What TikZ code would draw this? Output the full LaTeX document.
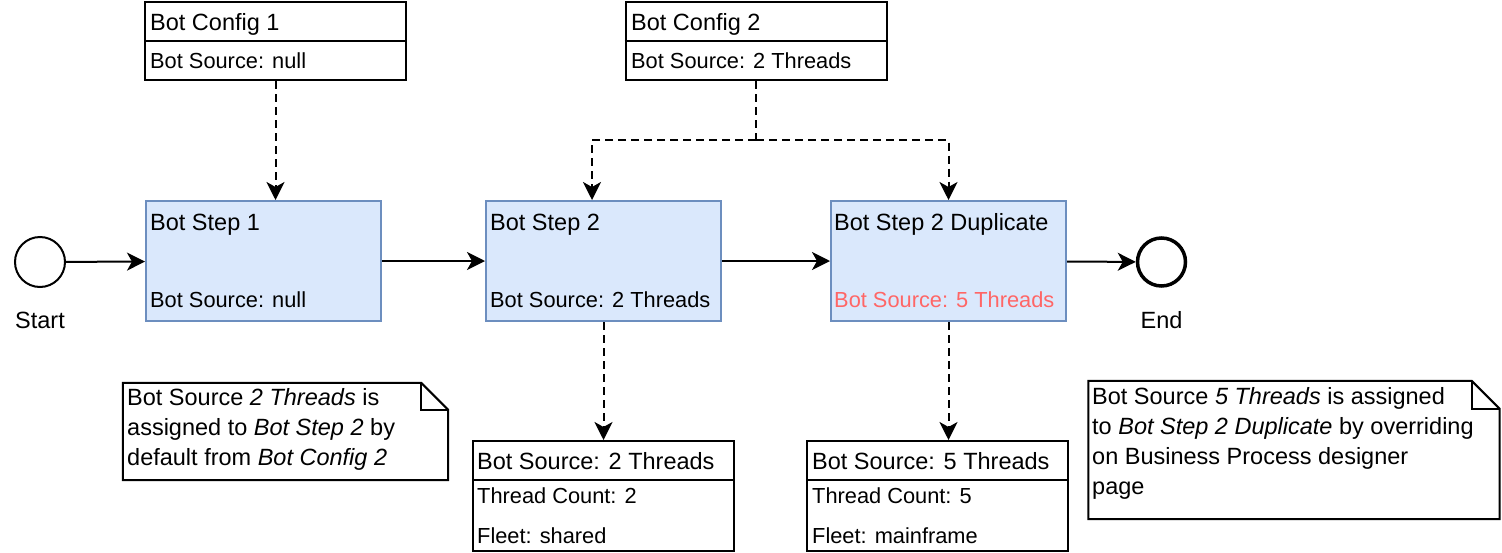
\documentclass[tikz,border=0pt]{standalone}
\usepackage{fontspec}
\setmainfont{Liberation Sans}
\usetikzlibrary{arrows.meta,calc}
\definecolor{stepfill}{HTML}{DAE8FC}
\definecolor{stepdraw}{HTML}{6C8EBF}
\definecolor{redtxt}{HTML}{FF6666}
\begin{document}
\begin{tikzpicture}[x=1pt,y=-1pt,
  cfgbox/.style={draw, line width=2pt, inner sep=0pt, minimum width=261pt, minimum height=78pt},
  srcbox/.style={draw, line width=2pt, inner sep=0pt, minimum width=261pt, minimum height=110pt},
  stepbox/.style={draw=stepdraw, fill=stepfill, line width=2pt, inner sep=0pt, minimum width=235pt, minimum height=120pt},
  evt/.style={circle, draw, line width=2pt, inner sep=0pt, minimum size=50pt},
  txt/.style={anchor=base west, inner sep=0pt, font=\fontsize{21.8}{26}\selectfont},
  ttl/.style={anchor=base west, inner sep=0pt, font=\fontsize{23.5}{28}\selectfont},
  notetxt/.style={anchor=base west, inner sep=0pt, font=\fontsize{23.5}{30}\selectfont},
  flow/.style={line width=2pt, -{Stealth[length=18pt,width=18pt,inset=5pt]}},
  dsh/.style={flow, dash pattern=on 8pt off 5pt},
  dshline/.style={line width=2pt, dash pattern=on 8pt off 5pt},
  notebox/.style={line width=2pt, line join=miter}
]
\useasboundingbox (0,0) rectangle (1502,552);

% config boxes
\node[cfgbox] (c1) at (275.5,41) {};
\draw[line width=1.8pt] (c1.west) -- (c1.east);
\node[ttl] (c1t) at (150,30) {Bot Config 1};
\node[txt] (c1s) at (150,68) {Bot Source: null};

\node[cfgbox] (c2) at (756,41) {};
\draw[line width=1.8pt] (c2.west) -- (c2.east);
\node[ttl] (c2t) at (631,30) {Bot Config 2};
\node[txt] (c2s) at (631,68) {Bot Source: 2 Threads};

% events
\node[evt] (st) at (40,262) {};
\node[ttl, anchor=base] (stl) at (40,328) {Start};
\node[evt, line width=3.5pt, minimum size=48pt] (en) at (1161.5,262) {};
\node[ttl, anchor=base] (enl) at (1161.5,328) {End};

% steps
\node[stepbox] (s1) at (263.5,261) {};
\node[ttl] (s1t) at (150,230) {Bot Step 1};
\node[txt] (s1s) at (150,307) {Bot Source: null};

\node[stepbox] (s2) at (603.5,261) {};
\node[ttl] (s2t) at (490,230) {Bot Step 2};
\node[txt] (s2s) at (490,307) {Bot Source: 2 Threads};

\node[stepbox] (s3) at (948.5,261) {};
\node[ttl] (s3t) at (834,230) {Bot Step 2 Duplicate};
\node[txt, text=redtxt] (s3s) at (834,307) {Bot Source: 5 Threads};

% source boxes
\node[srcbox] (b1) at (603.5,496) {};
\draw[line width=1.8pt] ($(b1.north west)+(0,40)$) -- ($(b1.north east)+(0,40)$);
\node[ttl] (b1t) at (477,469) {Bot Source: 2 Threads};
\node[txt] (b1a) at (477,503) {Thread Count: 2};
\node[txt] (b1b) at (477,543) {Fleet: shared};

\node[srcbox] (b2) at (937.5,496) {};
\draw[line width=1.8pt] ($(b2.north west)+(0,40)$) -- ($(b2.north east)+(0,40)$);
\node[ttl] (b2t) at (812,469) {Bot Source: 5 Threads};
\node[txt] (b2a) at (812,503) {Thread Count: 5};
\node[txt] (b2b) at (812,543) {Fleet: mainframe};

% notes
\node[inner sep=0pt, minimum width=325pt, minimum height=97pt] (n1) at (285.5,431.5) {};
\draw[notebox] (n1.north west) -- ($(n1.north east)+(-27,0)$) -- ($(n1.north east)+(0,27)$) -- (n1.south east) -- (n1.south west) -- cycle;
\draw[notebox] ($(n1.north east)+(-27,0)$) -- ($(n1.north east)+(-27,27)$) -- ($(n1.north east)+(0,27)$);
\node[notetxt] (n1a) at (127,405) {Bot Source \textit{2 Threads} is};
\node[notetxt] (n1b) at (127,435) {assigned to \textit{Bot Step 2} by};
\node[notetxt] (n1c) at (127,465) {default from \textit{Bot Config 2}};

\node[inner sep=0pt, minimum width=411pt, minimum height=138pt] (n2) at (1294,450) {};
\draw[notebox] (n2.north west) -- ($(n2.north east)+(-28,0)$) -- ($(n2.north east)+(0,28)$) -- (n2.south east) -- (n2.south west) -- cycle;
\draw[notebox] ($(n2.north east)+(-28,0)$) -- ($(n2.north east)+(-28,28)$) -- ($(n2.north east)+(0,28)$);
\node[notetxt] (n2a) at (1092,404) {Bot Source \textit{5 Threads} is assigned};
\node[notetxt] (n2b) at (1092,434) {to \textit{Bot Step 2 Duplicate} by overriding};
\node[notetxt] (n2c) at (1092,464) {on Business Process designer};
\node[notetxt] (n2d) at (1092,494) {page};

% flow connectors
\draw[flow] (st) -- (s1);
\draw[flow] (s1) -- (s2);
\draw[flow] (s2) -- (s3);
\draw[flow] (s3) -- (en);

% dashed connectors
\draw[dsh] (c1.south) -- (c1.south |- s1.north);
\coordinate (j) at (756,140);
\draw[dshline] (c2.south) -- (j);
\draw[dsh] (j) -| ([xshift=-11.5pt]s2.north);
\draw[dsh] (j) -| (s3.north);
\draw[dsh] (s2.south) -- (b1.north);
\draw[dsh] (s3.south) -- (s3.south |- b2.north);
\end{tikzpicture}
\end{document}
